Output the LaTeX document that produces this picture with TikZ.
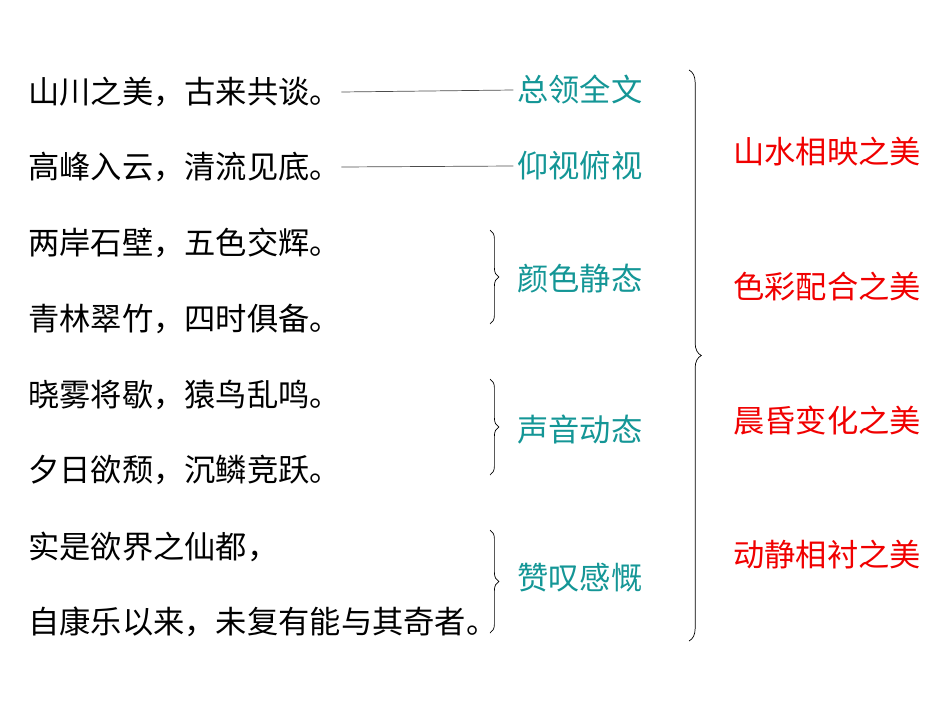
\documentclass[tikz,border=0pt]{standalone}
\usepackage{fontspec}
\usepackage{xcolor}
\usepackage{tikz}
\usetikzlibrary{decorations.pathreplacing}
\setmainfont{Noto Sans CJK SC}
\definecolor{tealtext}{RGB}{20,150,150}
\definecolor{redtext}{RGB}{240,0,0}
\tikzset{
  verse/.style={anchor=west, inner sep=0pt, font=\fontsize{17.8}{21}\selectfont},
  gist/.style={verse, text=tealtext},
  theme/.style={verse, text=redtext},
  bracket/.style={decorate, decoration={brace, amplitude=5pt}, thin},
  bigbracket/.style={decorate, decoration={brace, amplitude=7pt}, thin}
}

\begin{document}
\begin{tikzpicture}[x=0.02cm, y=-0.02cm]
      \useasboundingbox (0,0) rectangle (950,713);
      % the text, one line at a time
      \foreach \txt/\ypos [count=\i] in {
          山川之美，古来共谈。/92,
          高峰入云，清流见底。/167,
          两岸石壁，五色交辉。/243,
          青林翠竹，四时俱备。/319,
          晓雾将歇，猿鸟乱鸣。/395,
          夕日欲颓，沉鳞竞跃。/470,
          实是欲界之仙都，/547,
          自康乐以来，未复有能与其奇者。/622} {
        \node[verse] (line\i) at (28,\ypos) {\txt};
      }
      % what each part does
      \node[gist] (sum) at (517,90) {总领全文};
      \node[gist] (look) at (517,166) {仰视俯视};
      \node[gist] (still) at (517,279) {颜色静态};
      \node[gist] (sound) at (517,430) {声音动态};
      \node[gist] (sigh) at (517,578) {赞叹感慨};
      \draw[thin, gray!60!black] (line1.east) -- ([xshift=-2pt]sum.west);
      \draw[thin, gray!60!black] (line2.east) -- ([xshift=-2pt]look.west);
      \coordinate (b1top) at (490,230);
      \coordinate (b1bot) at (490,324);
      \coordinate (b2top) at (490,379);
      \coordinate (b2bot) at (490,475);
      \coordinate (b3top) at (490,530);
      \coordinate (b3bot) at (490,633);
      \draw[bracket] (b1top) -- (b1bot);
      \draw[bracket] (b2top) -- (b2bot);
      \draw[bracket] (b3top) -- (b3bot);
      % the four kinds of beauty
      \coordinate (bigtop) at (689,70);
      \coordinate (bigbot) at (689,641);
      \draw[bigbracket] (bigtop) -- (bigbot);
      \node[theme] (hills) at (733,152) {山水相映之美};
      \node[theme] (hues) at (733,287) {色彩配合之美};
      \node[theme] (dusk) at (733,421) {晨昏变化之美};
      \node[theme] (calm) at (733,555) {动静相衬之美};
\end{tikzpicture}
\end{document}
